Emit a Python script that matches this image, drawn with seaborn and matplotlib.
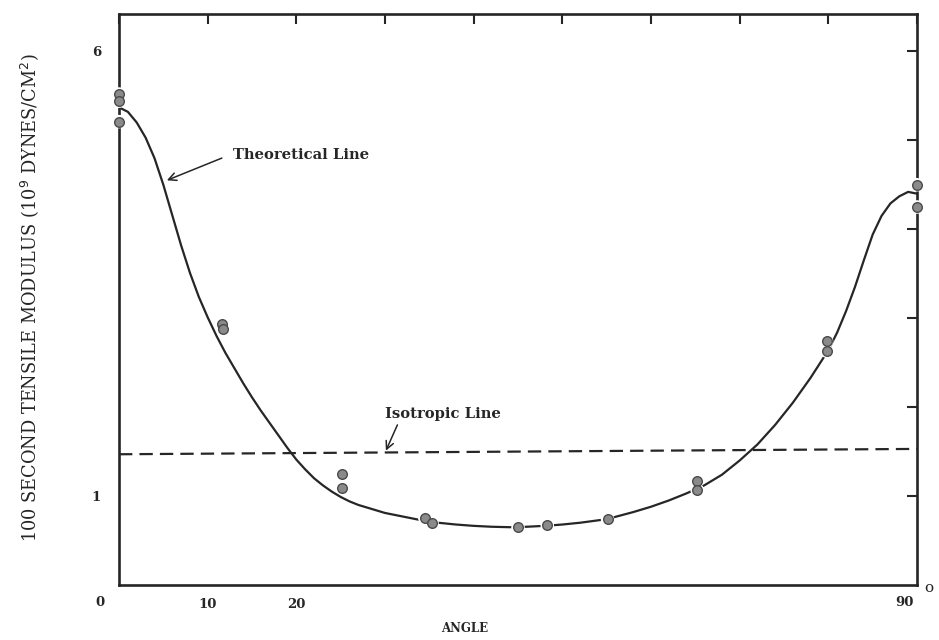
import matplotlib
matplotlib.use("Agg")
import matplotlib.pyplot as plt
import seaborn as sns
import pandas as pd

# ---- data ----
curve_angle = [0, 1, 2, 3, 4, 5, 6, 7, 8, 9, 10, 11, 12, 13, 14, 15, 16, 17, 18,
               19, 20, 21, 22, 23, 24, 25, 26, 27, 28, 29, 30, 32, 34, 36, 38,
               40, 42, 44, 46, 48, 50, 52, 55, 58, 60, 62, 64, 66, 68, 70, 72,
               74, 76, 78, 80, 81, 82, 83, 84, 85, 86, 87, 88, 89, 90]
curve_modulus = [5.37, 5.32, 5.20, 5.03, 4.80, 4.50, 4.16, 3.82, 3.51, 3.24,
                 3.01, 2.80, 2.61, 2.44, 2.27, 2.11, 1.96, 1.82, 1.68, 1.54,
                 1.41, 1.30, 1.20, 1.12, 1.05, 0.99, 0.94, 0.90, 0.87, 0.84,
                 0.81, 0.77, 0.73, 0.70, 0.68, 0.665, 0.655, 0.65, 0.655,
                 0.665, 0.68, 0.70, 0.74, 0.82, 0.88, 0.95, 1.03, 1.12, 1.24,
                 1.40, 1.58, 1.80, 2.05, 2.33, 2.64, 2.84, 3.08, 3.35, 3.65,
                 3.94, 4.15, 4.29, 4.37, 4.42, 4.40]

iso_angle = [0, 90]
iso_modulus = [1.47, 1.53]

obs_angle = [0, 0, 0, 11.6, 11.7, 25.2, 25.2, 34.5, 35.3, 45.0, 48.3, 55.1,
             65.2, 65.2, 79.8, 79.8, 90, 90]
obs_modulus = [5.52, 5.44, 5.21, 2.93, 2.88, 1.25, 1.09, 0.75, 0.70, 0.65, 0.67,
               0.74, 1.17, 1.07, 2.74, 2.63, 4.50, 4.25]

x_ticks = [0, 10, 20, 30, 40, 50, 60, 70, 80, 90]
x_ticklabels = ["", "10", "20", "", "", "", "", "", "", ""]
y_ticks = [1, 2, 3, 4, 5, 6]
y_ticklabels = ["1", "", "", "", "", "6"]

sns.set_style("white")
plt.rcParams["font.family"] = ["DejaVu Serif"]

curve_df = pd.DataFrame({"angle": curve_angle, "modulus": curve_modulus})
iso_df = pd.DataFrame({"angle": iso_angle, "modulus": iso_modulus})
obs_df = pd.DataFrame({"angle": obs_angle, "modulus": obs_modulus})

fig = plt.figure(figsize=(9.39, 6.4), dpi=100)
ax = fig.add_axes([119 / 939, 1 - 585 / 640, 798 / 939, 571 / 640])

ink = "#262626"
sns.lineplot(data=curve_df, x="angle", y="modulus", ax=ax, color=ink,
             linewidth=1.6, sort=False, zorder=2)
sns.lineplot(data=iso_df, x="angle", y="modulus", ax=ax, color=ink,
             linewidth=1.6, zorder=2)
ax.lines[-1].set_dashes([6, 3.2])

# white halos that break lines/spines around the points
sns.scatterplot(data=obs_df, x="angle", y="modulus", ax=ax, s=95,
                color="white", edgecolor="none", zorder=4, clip_on=False)
sns.scatterplot(data=obs_df, x="angle", y="modulus", ax=ax, s=48,
                color="#8a8a8a", edgecolor="#4a4a4a", linewidth=1.0,
                zorder=5, clip_on=False)

ax.set_xlim(0, 90)
ax.set_ylim(0, 6.42)
ax.set_xticks(x_ticks)
ax.set_xticklabels(x_ticklabels, fontsize=9.5, fontweight="bold", color=ink)
ax.set_yticks(y_ticks)
ax.set_yticklabels(y_ticklabels, fontsize=9.5, fontweight="bold", color=ink)
ax.tick_params(axis="both", direction="in", length=7, width=1.5, color=ink,
               top=True, right=True)
ax.tick_params(axis="x", pad=9)
ax.tick_params(axis="y", pad=13)
for sp in ax.spines.values():
    sp.set_linewidth(1.9)
    sp.set_color(ink)
    sp.set_zorder(3)
ax.set_xlabel("")
ax.set_ylabel("")

# extra axis texts
fig.text(100 / 939, 1 - 603 / 640, "0", ha="center", va="center",
         fontsize=9.5, fontweight="bold", color=ink)
fig.text(904 / 939, 1 - 603 / 640, "90", ha="center", va="center",
         fontsize=9.5, fontweight="bold", color=ink)
fig.text(929 / 939, 1 - 588 / 640, "o", ha="center", va="center",
         fontsize=11, color=ink)
fig.text(465 / 939, 1 - 628 / 640, "ANGLE", ha="center", va="center",
         fontsize=8.5, fontweight="bold", color=ink)
fig.text(30 / 939, 1 - 298 / 640,
         "100 SECOND TENSILE MODULUS (10$^{9}$ DYNES/CM$^{2}$)",
         ha="center", va="center", rotation=90, fontsize=12.8, color=ink)

# annotations
ax.text(12.9, 4.84, "Theoretical Line", ha="left", va="center",
        fontsize=10.6, fontweight="bold", color=ink)
ax.annotate("", xy=(5.4, 4.55), xytext=(11.6, 4.80),
            arrowprops=dict(arrowstyle="->", lw=1.1, color=ink,
                            shrinkA=0, shrinkB=0, mutation_scale=14))
ax.text(30.0, 1.92, "Isotropic Line", ha="left", va="center",
        fontsize=10.6, fontweight="bold", color=ink)
ax.annotate("", xy=(30.1, 1.51), xytext=(31.4, 1.80),
            arrowprops=dict(arrowstyle="->", lw=1.1, color=ink,
                            shrinkA=0, shrinkB=0, mutation_scale=14))

fig.savefig("out.png", dpi=100, facecolor="white")
